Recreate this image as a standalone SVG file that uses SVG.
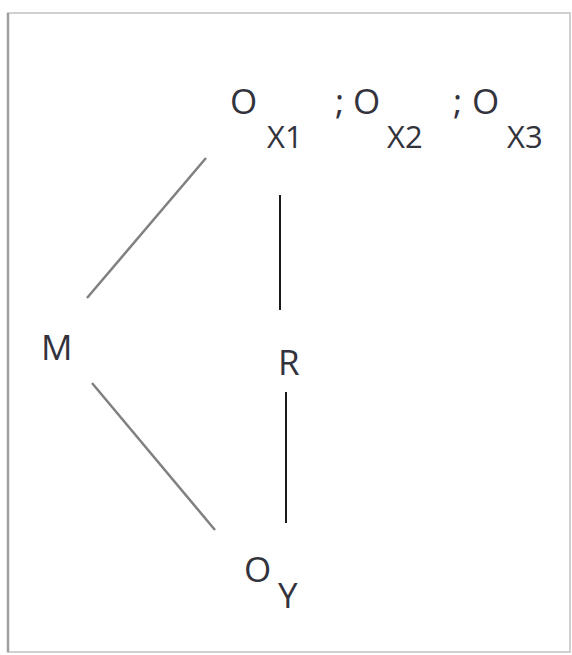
<svg xmlns="http://www.w3.org/2000/svg" width="572" height="655" viewBox="0 0 572 655">
<style>
.t{font-family:"Open Sans","Liberation Sans",sans-serif;font-size:35px;fill:#33333d}
.s{font-size:31px}
.g{stroke:#808080;stroke-width:2.5;fill:none}
.k{stroke:#1a1a1a;stroke-width:2;fill:none}
</style>
<rect x="0" y="0" width="572" height="655" fill="#ffffff"/>
<rect x="8" y="13" width="562" height="639" fill="none" stroke="#d0d0d0" stroke-width="2"/>
<line x1="8" y1="13" x2="8" y2="652" stroke="#a0a0a0" stroke-width="2.5"/>
<g id="connectors">
<line class="g" x1="87" y1="298" x2="206" y2="158"/>
<line class="k" x1="280" y1="195" x2="280" y2="310"/>
<line class="g" x1="92" y1="383" x2="215" y2="530"/>
<line class="k" x1="286" y1="392" x2="286" y2="523"/>
</g>
<g id="node-ox">
<text class="t" x="230" y="114">O</text>
<text class="t s" x="267" y="148">X1</text>
<text class="t" x="335" y="114">;</text>
<text class="t" x="353" y="114">O</text>
<text class="t s" x="387" y="148">X2</text>
<text class="t" x="453" y="114">;</text>
<text class="t" x="472" y="114">O</text>
<text class="t s" x="507" y="148">X3</text>
</g>
<g id="node-m">
<text class="t" x="41" y="360">M</text>
</g>
<g id="node-r">
<text class="t" x="278" y="375">R</text>
</g>
<g id="node-oy">
<text class="t" x="244" y="582">O</text>
<text class="t" x="278" y="608">Y</text>
</g>
</svg>
